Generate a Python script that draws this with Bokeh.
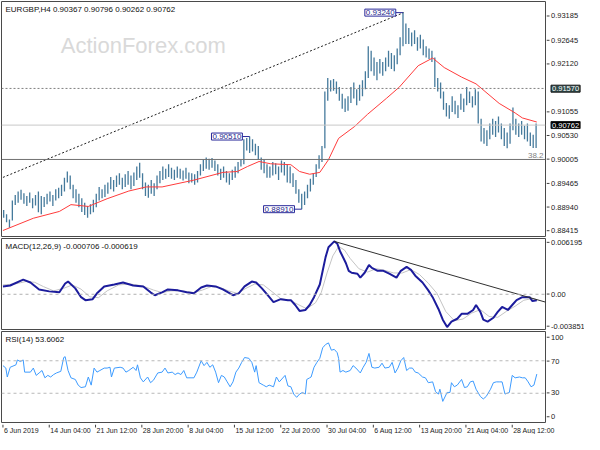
from bokeh.plotting import figure
from bokeh.layouts import column, row
from bokeh.models import Range1d, Label, Span
from bokeh.core.properties import value
from bokeh.embed import file_html
from bokeh.resources import INLINE

# ---------------- data ----------------
symbol = "EURGBP,H4"
last_ohlc = [0.90367, 0.90796, 0.90262, 0.90762]

date_ticks = [0, 32, 64, 96, 128, 160, 192, 224, 256, 288, 320, 352]
date_labels = ["6 Jun 2019", "14 Jun 04:00", "21 Jun 12:00", "28 Jun 20:00", "8 Jul 04:00",
               "15 Jul 12:00", "22 Jul 20:00", "30 Jul 04:00", "6 Aug 12:00", "13 Aug 20:00",
               "21 Aug 04:00", "28 Aug 12:00"]

# high / low of each pair of H4 bars
pair_high = [
    0.8889, 0.8880, 0.8868, 0.8910, 0.8922, 0.8930, 0.8934, 0.8926, 0.8920, 0.8928,
    0.8915, 0.8922, 0.8930, 0.8920, 0.8918, 0.8925, 0.8930, 0.8922, 0.8935, 0.8938,
    0.8945, 0.8960, 0.8974, 0.8965, 0.8945, 0.8935, 0.8925, 0.8915, 0.8905, 0.8898,
    0.8902, 0.8912, 0.8925, 0.8940, 0.8935, 0.8945, 0.8950, 0.8962, 0.8955, 0.8965,
    0.8970, 0.8960, 0.8968, 0.8975, 0.8965, 0.8972, 0.8985, 0.8993, 0.8970, 0.8950,
    0.8945, 0.8955, 0.8948, 0.8965, 0.8975, 0.8985, 0.8980, 0.8990, 0.8982, 0.8978,
    0.8985, 0.8980, 0.8976, 0.8982, 0.8972, 0.8970, 0.8968, 0.8975, 0.8990, 0.9000,
    0.9005, 0.9002, 0.9004, 0.8998, 0.8990, 0.8980, 0.8985, 0.8975, 0.8970, 0.8978,
    0.8985, 0.8995, 0.9000, 0.9045, 0.9048, 0.9051, 0.9045, 0.9035, 0.9030, 0.9005,
    0.9000, 0.8990, 0.8985, 0.8995, 0.8992, 0.8985, 0.8998, 0.8995, 0.8990, 0.8985,
    0.8970, 0.8955, 0.8935, 0.8925, 0.8930, 0.8945, 0.8958, 0.8970, 0.8990, 0.9010,
    0.9030, 0.9150, 0.9180, 0.9175, 0.9178, 0.9172, 0.9160, 0.9145, 0.9135, 0.9140,
    0.9160, 0.9170, 0.9155, 0.9165, 0.9175, 0.9195, 0.9250, 0.9240, 0.9225, 0.9215,
    0.9222, 0.9215, 0.9225, 0.9240, 0.9235, 0.9230, 0.9245, 0.9270, 0.9324, 0.9300,
    0.9290, 0.9280, 0.9285, 0.9270, 0.9275, 0.9265, 0.9250, 0.9245, 0.9240, 0.9225,
    0.9180, 0.9170, 0.9150, 0.9125, 0.9120, 0.9140, 0.9130, 0.9120, 0.9145, 0.9135,
    0.9160, 0.9150, 0.9140, 0.9155, 0.9150, 0.9090, 0.9070, 0.9065, 0.9080, 0.9090,
    0.9085, 0.9095, 0.9080, 0.9070, 0.9060, 0.9080, 0.9115, 0.9090, 0.9080, 0.9085,
    0.9075, 0.9080, 0.9060, 0.9055, 0.9080]
pair_low = [
    0.8872, 0.8862, 0.8850, 0.8866, 0.8900, 0.8905, 0.8912, 0.8903, 0.8898, 0.8905,
    0.8893, 0.8899, 0.8884, 0.8880, 0.8896, 0.8902, 0.8908, 0.8898, 0.8910, 0.8915,
    0.8920, 0.8930, 0.8950, 0.8935, 0.8915, 0.8905, 0.8895, 0.8885, 0.8878, 0.8872,
    0.8880, 0.8884, 0.8895, 0.8910, 0.8915, 0.8918, 0.8925, 0.8935, 0.8930, 0.8940,
    0.8945, 0.8935, 0.8940, 0.8945, 0.8935, 0.8942, 0.8955, 0.8960, 0.8935, 0.8920,
    0.8916, 0.8925, 0.8920, 0.8935, 0.8948, 0.8955, 0.8958, 0.8962, 0.8958, 0.8955,
    0.8960, 0.8958, 0.8954, 0.8958, 0.8948, 0.8950, 0.8945, 0.8950, 0.8965, 0.8975,
    0.8980, 0.8978, 0.8982, 0.8975, 0.8965, 0.8955, 0.8960, 0.8950, 0.8945, 0.8955,
    0.8960, 0.8970, 0.8985, 0.8990, 0.9020, 0.9015, 0.9018, 0.9010, 0.9000, 0.8978,
    0.8970, 0.8960, 0.8960, 0.8965, 0.8968, 0.8955, 0.8972, 0.8965, 0.8950, 0.8948,
    0.8940, 0.8925, 0.8905, 0.8891, 0.8900, 0.8915, 0.8930, 0.8945, 0.8962, 0.8980,
    0.8995, 0.9025, 0.9130, 0.9150, 0.9152, 0.9145, 0.9130, 0.9112, 0.9105, 0.9108,
    0.9125, 0.9135, 0.9120, 0.9130, 0.9140, 0.9155, 0.9180, 0.9195, 0.9185, 0.9175,
    0.9190, 0.9185, 0.9195, 0.9205, 0.9200, 0.9195, 0.9210, 0.9230, 0.9250, 0.9255,
    0.9255, 0.9250, 0.9255, 0.9240, 0.9245, 0.9230, 0.9225, 0.9222, 0.9215, 0.9160,
    0.9150, 0.9135, 0.9110, 0.9095, 0.9090, 0.9105, 0.9100, 0.9092, 0.9110, 0.9105,
    0.9120, 0.9125, 0.9115, 0.9120, 0.9080, 0.9040, 0.9035, 0.9030, 0.9045, 0.9055,
    0.9050, 0.9060, 0.9045, 0.9030, 0.9025, 0.9035, 0.9065, 0.9055, 0.9050, 0.9055,
    0.9045, 0.9040, 0.9030, 0.9026, 0.9026]

# moving average (red)
ma_bar = [0, 21, 39, 47, 59, 72, 87, 99, 110, 132, 152, 162, 169, 177, 185, 199, 205,
          212, 219, 225, 232, 243, 252, 265, 274, 287, 297, 305, 317, 327, 343, 354, 359, 369]
ma_val = [0.8844, 0.8871, 0.8886, 0.8901, 0.8897, 0.8914, 0.8931, 0.8940, 0.8940, 0.8955,
          0.8972, 0.8974, 0.8985, 0.8996, 0.8991, 0.8989, 0.8974, 0.8968, 0.8972, 0.9000,
          0.9047, 0.9073, 0.9100, 0.9135, 0.9160, 0.9207, 0.9224, 0.9203, 0.9182, 0.9167,
          0.9124, 0.9103, 0.9092, 0.9083]

# marked swing points
swing_bar = [170.5, 206.5, 276.5]
swing_price = [0.90510, 0.88910, 0.93240]

# levels
resist_level = 0.91570
fib_level = 0.90005
fib_text = "38.2"
trend_bar = [0, 277]
trend_price = [0.8961, 0.9324]

price_ticks = [0.93185, 0.92645, 0.92120, 0.91055, 0.90530, 0.90005, 0.89465, 0.88940, 0.88415]

# MACD(12,26,9)
macd_bar = [0, 5, 14, 19, 25, 32, 39, 43, 45, 50, 54, 57, 62, 65, 70, 77, 83, 90, 97, 102,
            105, 110, 114, 121, 127, 132, 137, 141, 147, 152, 159, 163, 167, 172, 175, 179,
            183, 187, 192, 197, 199, 202, 205, 209, 212, 215, 219, 221, 223, 225, 229, 231,
            233, 237, 239, 241, 245, 247, 250, 253, 255, 259, 263, 267, 272, 275, 279, 282,
            285, 290, 294, 297, 301, 304, 307, 310, 314, 317, 321, 325, 327, 330, 332, 335,
            339, 342, 345, 349, 352, 355, 359, 362, 364, 366, 369]
macd_main = [0.00092, 0.00103, 0.00172, 0.00138, 0.00057, 0.00034, 0.00023, 0.00126, 0.00149,
             0.00069, -0.00034, -0.00069, -0.00057, 0.00011, 0.00092, 0.00115, 0.00138,
             0.00103, 0.00092, 0.00023, -0.00011, 0.00023, 0.00057, 0.00046, 0.00023,
             0.00011, 0.00080, 0.00103, 0.00092, 0.00057, -0.00011, 0.00011, 0.00092,
             0.00149, 0.00138, 0.00069, -0.00011, -0.00092, -0.00057, -0.00069, -0.00069,
             -0.00126, -0.00195, -0.00184, -0.00126, -0.00034, 0.00115, 0.00275, 0.00436,
             0.00551, 0.00620, 0.00596, 0.00505, 0.00367, 0.00275, 0.00252, 0.00241, 0.00195,
             0.00252, 0.00344, 0.00310, 0.00275, 0.00275, 0.00241, 0.00195, 0.00275, 0.00321,
             0.00287, 0.00218, 0.00138, 0.00046, -0.00034, -0.00172, -0.00298, -0.00385,
             -0.00321, -0.00287, -0.00229, -0.00229, -0.00184, -0.00126, -0.00206, -0.00298,
             -0.00321, -0.00275, -0.00206, -0.00149, -0.00184, -0.00126, -0.00069, -0.00034,
             -0.00034, -0.00034, -0.00080, -0.000706]
signal_bar = [0, 8, 16, 22, 28, 35, 42, 48, 54, 60, 66, 72, 80, 88, 96, 104, 110, 116, 124,
              132, 138, 144, 150, 156, 162, 168, 174, 180, 186, 192, 198, 204, 210, 216, 220,
              224, 228, 232, 236, 240, 246, 252, 258, 264, 270, 276, 282, 288, 294, 300, 306,
              312, 318, 324, 330, 336, 342, 348, 354, 360, 366, 369]
signal_val = [0.0011, 0.0012, 0.0015, 0.0014, 0.0009, 0.0004, 0.0007, 0.0011, 0.0006, -0.0003,
              -0.0004, 0.0004, 0.0011, 0.0012, 0.0010, 0.0005, 0.0002, 0.0004, 0.0004, 0.0002,
              0.0005, 0.0009, 0.0008, 0.0004, 0.0001, 0.0007, 0.0012, 0.0011, 0.0003, -0.0005,
              -0.0007, -0.0012, -0.0017, -0.0010, 0.0002, 0.0025, 0.0045, 0.0056, 0.0052,
              0.0042, 0.0030, 0.0026, 0.0030, 0.0028, 0.0025, 0.0025, 0.0029, 0.0023, 0.0013,
              0.0001, -0.0020, -0.0031, -0.0029, -0.0022, -0.0018, -0.0026, -0.0027, -0.0020,
              -0.0014, -0.0007, -0.0005, -0.000619]
macd_tl_bar = [229, 375]
macd_tl_val = [0.00620, -0.00092]
macd_ticks = [0.006195, 0.0, -0.003851]
macd_tick_text = ["0.006195", "0.00", "-0.003851"]

# RSI(14)
rsi_bar = [0, 2, 3, 5, 9, 10, 12, 14, 15, 19, 21, 23, 25, 27, 29, 31, 33, 35, 37, 40, 42, 43,
           45, 47, 50, 52, 54, 57, 59, 61, 63, 65, 67, 70, 72, 74, 75, 77, 81, 83, 85, 87, 90,
           92, 93, 95, 97, 100, 102, 104, 107, 110, 112, 114, 117, 119, 121, 123, 125, 127,
           130, 132, 134, 137, 139, 141, 143, 145, 147, 149, 151, 153, 155, 157, 159, 161,
           163, 165, 167, 170, 172, 174, 175, 177, 180, 182, 184, 187, 189, 191, 195, 197,
           199, 201, 203, 205, 207, 209, 210, 212, 213, 215, 217, 219, 221, 223, 225, 227,
           229, 231, 232, 233, 235, 237, 240, 242, 244, 247, 249, 251, 253, 255, 257, 260,
           262, 264, 267, 269, 271, 273, 275, 277, 279, 281, 283, 285, 287, 290, 292, 294,
           297, 299, 301, 302, 304, 307, 309, 310, 312, 314, 317, 319, 321, 323, 325, 327,
           330, 332, 334, 337, 339, 341, 343, 345, 347, 350, 352, 354, 357, 359, 361, 363,
           365, 367, 369]
rsi_val = [64, 61, 50, 62, 65, 71, 69, 71, 56, 56, 61, 52, 55, 58, 49, 52, 50, 53, 55, 57, 74,
           75, 58, 49, 47, 40, 37, 38, 50, 40, 61, 56, 58, 61, 61, 62, 50, 61, 62, 61, 56, 58,
           62, 58, 65, 49, 44, 50, 43, 46, 55, 56, 61, 55, 56, 53, 55, 53, 58, 49, 49, 49, 56,
           70, 64, 68, 62, 65, 56, 43, 52, 50, 44, 38, 44, 56, 61, 68, 74, 73, 68, 56, 64, 43,
           40, 38, 40, 38, 50, 44, 52, 39, 38, 29, 25, 29, 31, 29, 47, 49, 50, 62, 68, 73, 86,
           90, 92, 83, 84, 80, 73, 56, 58, 56, 58, 64, 61, 55, 62, 68, 79, 62, 61, 62, 67, 61,
           62, 68, 55, 61, 70, 74, 58, 61, 61, 56, 55, 50, 49, 43, 44, 32, 29, 35, 20, 31, 31,
           43, 38, 40, 47, 37, 38, 44, 45, 35, 26, 23, 26, 35, 43, 44, 44, 44, 29, 31, 52, 49,
           50, 49, 49, 44, 38, 40, 53.6062]
rsi_ticks = [100, 70, 30, 0]
rsi_levels = [70, 30]

# ---------------- styling / layout ----------------
FONT = "Liberation Sans"
FS = "8px"
AFS = "7.5px"
DFS = "7px"
DATA_W = 546          # data figure width (frame 544 + 1px borders)
AX_W = 38             # width of the price-scale strip
TOTAL_W = DATA_W + AX_W
X0, X1 = -1, 375
xr = Range1d(X0, X1)
PX_PER_BAR = (DATA_W - 2) / (X1 - X0)
BAR_COLOR = "#457a9c"


def data_fig(h, yr):
    p = figure(width=DATA_W, height=h, x_range=xr, y_range=Range1d(*yr),
               x_axis_location=None, y_axis_location=None, toolbar_location=None,
               output_backend="svg", min_border_left=1, min_border_right=1,
               min_border_top=1, min_border_bottom=1)
    p.grid.visible = False
    p.outline_line_color = "#4a4a4a"
    p.outline_line_width = 1
    p.border_fill_color = "white"
    return p


def scale_fig(h, yr, ticks, texts):
    k = (yr[1] - yr[0]) / (h - 2)
    a = figure(width=AX_W, height=h, x_range=Range1d(0, AX_W),
               y_range=Range1d(yr[0] - k, yr[1] + k), x_axis_location=None,
               y_axis_location=None, toolbar_location=None, output_backend="svg",
               min_border_left=0, min_border_right=0, min_border_top=0, min_border_bottom=0)
    a.grid.visible = False
    a.outline_line_color = None
    a.segment(x0=[0] * len(ticks), x1=[3] * len(ticks), y0=ticks, y1=ticks,
              line_color="#404040", line_width=1)
    a.text(x=[4.5] * len(ticks), y=ticks, text=texts, text_font=value(FONT),
           text_font_size=value(AFS), text_color="#1a1a1a", text_baseline="middle",
           text_align="left")
    return a


def boxed(a, y, text, bg):
    a.text(x=[4.5], y=[y], text=[text], text_font=value(FONT), text_font_size=value(AFS),
           text_color="white", text_baseline="middle", text_align="left",
           background_fill_color=bg, border_line_color="#1a1a1a", padding=1)


def title(p, yr, text):
    p.add_layout(Label(x=X0, y=yr[1], x_offset=4, y_offset=-3, text=text, text_font=FONT,
                       text_font_size=FS, text_color="#101010", text_baseline="top"))


# ---- price panel ----
PY = (0.88308, 0.93485)
H1 = 237
p1 = data_fig(H1, PY)
p1.add_layout(Label(x=97, y=0.9252, text="ActionForex.com", text_font=FONT,
                    text_font_size="22px", text_color="#d9d9d9", text_align="center",
                    text_baseline="middle"))
p1.add_layout(Span(location=last_ohlc[3], dimension="width", line_color="#c8c8c8", line_width=1))
p1.add_layout(Span(location=fib_level, dimension="width", line_color="#707070", line_width=1))
p1.add_layout(Span(location=resist_level, dimension="width", line_color="#808080",
                   line_width=1, line_dash="2 2"))
p1.line(trend_bar, trend_price, line_color="#202020", line_width=1, line_dash="2 2")

pair_x = [2 * k + 0.5 for k in range(len(pair_high))]
p1.segment(x0=pair_x, x1=pair_x, y0=pair_low, y1=pair_high, line_color=BAR_COLOR, line_width=1.3)
p1.line(ma_bar, ma_val, line_color="#ff3b3b", line_width=1)

for b, pr in zip(swing_bar, swing_price):
    p1.segment(x0=[b - 5], x1=[b], y0=[pr], y1=[pr], line_color="#2a2a9a", line_width=1)
    p1.add_layout(Label(x=b - 5, y=pr, text=f"{pr:.5f}", text_font=FONT, text_font_size=FS,
                        text_color="#1e1e8c", text_align="right", text_baseline="middle",
                        background_fill_color="white", border_line_color="#2a2a9a",
                        padding=1))
p1.add_layout(Label(x=X1, y=fib_level, x_offset=-2, y_offset=1, text=fib_text, text_font=FONT,
                    text_font_size=FS, text_color="#808080", text_align="right",
                    text_baseline="bottom"))
title(p1, PY, symbol + "  " + " ".join(f"{v:.5f}" for v in last_ohlc))

a1 = scale_fig(H1, PY, price_ticks, [f"{t:.5f}" for t in price_ticks])
boxed(a1, resist_level, f"{resist_level:.5f}", "#2f4a4a")
boxed(a1, last_ohlc[3], f"{last_ohlc[3]:.5f}", "#000000")

# ---- MACD panel ----
MY = (-0.00413, 0.00654)
H2 = 93
p2 = data_fig(H2, MY)
p2.add_layout(Span(location=0, dimension="width", line_color="#b0b0b0", line_width=1,
                   line_dash="3 3"))
p2.line(signal_bar, signal_val, line_color="#c4c4c4", line_width=1)
p2.line(macd_bar, macd_main, line_color="#1c1c9c", line_width=2)
p2.line(macd_tl_bar, macd_tl_val, line_color="#303030", line_width=1)
title(p2, MY, f"MACD(12,26,9) {macd_main[-1]:.6f} {signal_val[-1]:.6f}")
a2 = scale_fig(H2, MY, macd_ticks, macd_tick_text)

# ---- RSI panel ----
RY = (-6, 106)
H3 = 93
p3 = data_fig(H3, RY)
for lv in rsi_levels:
    p3.add_layout(Span(location=lv, dimension="width", line_color="#b8b8b8", line_width=1,
                       line_dash="3 3"))
p3.line(rsi_bar, rsi_val, line_color="#3d9bff", line_width=1)
title(p3, RY, f"RSI(14) {rsi_val[-1]:.4f}")
a3 = scale_fig(H3, RY, rsi_ticks, [str(t) for t in rsi_ticks])

# ---- time scale strip ----
H4 = 11
dx0 = X0 - 1 / PX_PER_BAR
dx1 = dx0 + TOTAL_W / PX_PER_BAR
pd_ = figure(width=TOTAL_W, height=H4, x_range=Range1d(dx0, dx1), y_range=Range1d(0, H4),
             x_axis_location=None, y_axis_location=None, toolbar_location=None,
             output_backend="svg", min_border_left=0, min_border_right=0,
             min_border_top=0, min_border_bottom=0)
pd_.grid.visible = False
pd_.outline_line_color = None
pd_.segment(x0=date_ticks, x1=date_ticks, y0=[H4] * len(date_ticks),
            y1=[H4 - 3] * len(date_ticks), line_color="#404040", line_width=1)
pd_.text(x=date_ticks, y=[H4 - 2] * len(date_ticks), text=date_labels, text_font=value(FONT),
         text_font_size=value(DFS), text_color="#1a1a1a", text_baseline="top",
         text_align="left", x_offset=1)

layout = column(row(p1, a1, spacing=0), row(p2, a2, spacing=0), row(p3, a3, spacing=0), pd_,
                spacing=0)
open("out.html", "w").write(file_html(layout, INLINE))
